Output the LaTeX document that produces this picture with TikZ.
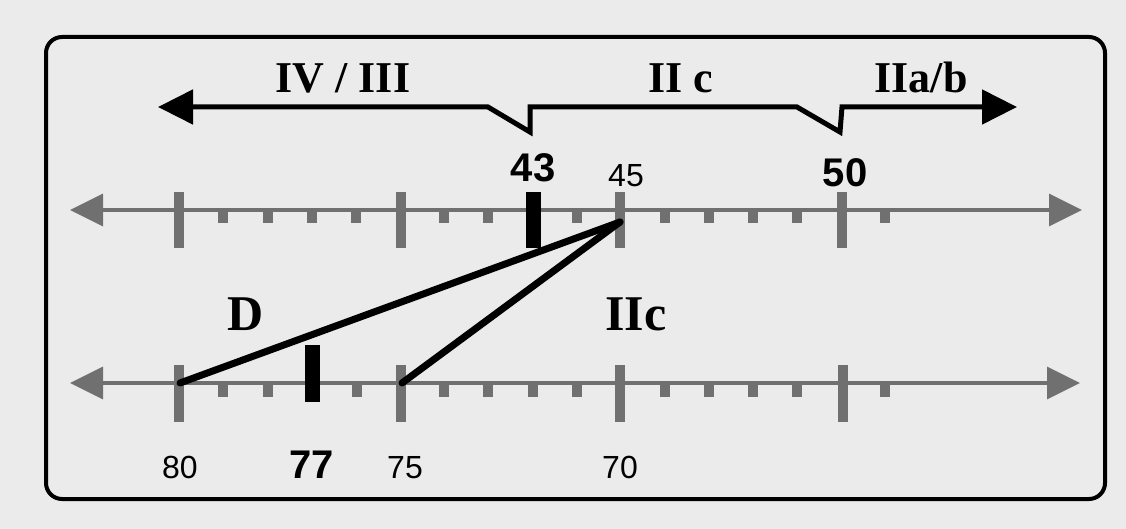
\documentclass[tikz,border=0pt]{standalone}
\usepackage{fontspec}
\setmainfont{Liberation Serif}
\newfontfamily\numfont{Liberation Sans}
\usetikzlibrary{arrows.meta}
\definecolor{paper}{HTML}{EBEBEB}
\definecolor{scale}{HTML}{707070}
\tikzset{
  axis/.style={draw=scale, line width=3.5pt,
    {Triangle[length=33pt,width=32pt]}-{Triangle[length=33pt,width=32pt]}},
  major/.style={fill=scale},
  minor/.style={fill=scale},
  marker/.style={fill=black},
  phase/.style={inner sep=0pt, anchor=base, font=\fontsize{44}{44}\selectfont\bfseries},
  zone/.style={inner sep=0pt, anchor=base, font=\fontsize{50}{50}\selectfont\bfseries},
  num/.style={inner sep=0pt, anchor=base, font=\numfont\fontsize{32}{32}\selectfont},
  bignum/.style={inner sep=0pt, anchor=base, font=\numfont\fontsize{40}{40}\selectfont\bfseries},
  link/.style={line width=7pt, line cap=round},
}
\begin{document}
\begin{tikzpicture}[x=1pt,y=-1pt]
  % page and frame
  \fill[paper] (0,0) rectangle (1126,529);
  \useasboundingbox (0,0) rectangle (1126,529);
  \draw[line width=4pt, rounded corners=16pt] (46,37) rectangle (1105,499);

  % phase arrow with the two steps
  \draw[line width=5pt, line join=miter,
        {Triangle[length=35pt,width=34pt]}-{Triangle[length=35pt,width=34pt]}]
    (158,107) -- (488,107) -- (530,132) -- (530,107) -- (797,107)
    -- (840,132) -- (842,107) -- (1017,107);
  \node[phase] (p43) at (343,93) {IV / III};
  \node[phase] (p2c) at (681,93) {II c};
  \node[phase] (p2ab) at (921,93) {IIa/b};

  % upper scale (35 ... 50)
  \draw[axis] (70,210) -- (1082,210);
  \foreach \x in {179,401,620,842} {
    \fill[major] (\x-5,192) rectangle (\x+5,248);
  }
  \foreach \x in {223,268,312,356,444,488,577,665,709,753,797,885} {
    \fill[minor] (\x-5,210) rectangle (\x+5,223);
  }
  \fill[marker] (526,192) rectangle (541,248);
  \node[bignum] (n43) at (533,182) {43};
  \node[num] (n45) at (626,187) {45};
  \node[bignum] (n50) at (845,187) {50};

  % lower scale (80 ... 65)
  \draw[axis] (70,383) -- (1080,383);
  \foreach \x in {179,401,620,843} {
    \fill[major] (\x-5,365) rectangle (\x+5,422);
  }
  \foreach \x in {223,268,357,444,488,533,577,665,709,753,797,885} {
    \fill[minor] (\x-5,383) rectangle (\x+5,397);
  }
  \fill[marker] (305,345) rectangle (320,402);
  \node[num] (n80) at (180,478) {80};
  \node[bignum] (n77) at (312,478) {77};
  \node[num] (n75) at (405,478) {75};
  \node[num] (n70) at (620,478) {70};

  % correspondence lines
  \coordinate (t45) at (620,222);
  \coordinate (b80) at (180,383);
  \coordinate (b75) at (402,383);
  \draw[link] (t45) -- (b80);
  \draw[link] (t45) -- (b75);
  \node[zone] (zD) at (246,330) {D};
  \node[zone] (zIIc) at (636,330) {IIc};
\end{tikzpicture}
\end{document}
